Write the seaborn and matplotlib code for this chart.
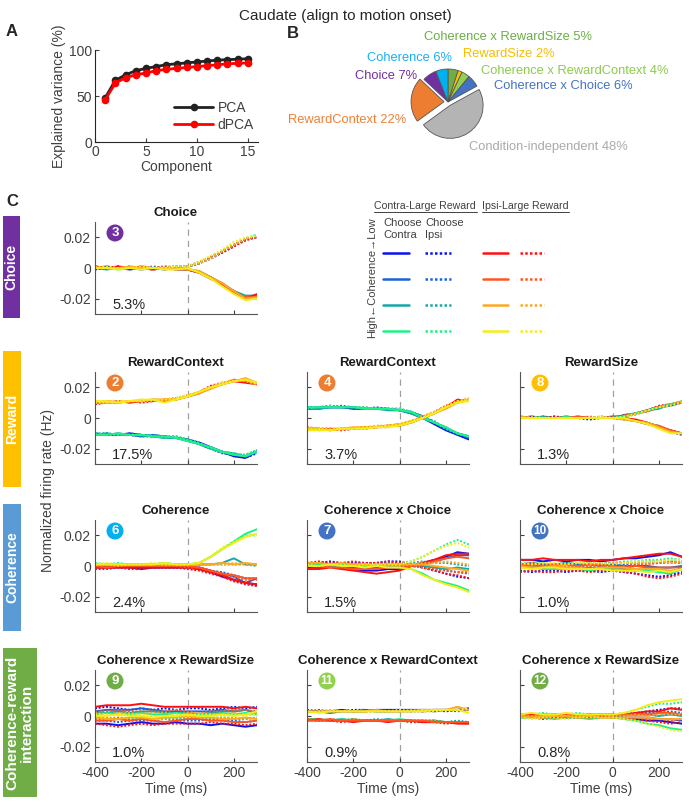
import pandas as pd
import seaborn as sns
import matplotlib.pyplot as plt
from matplotlib.lines import Line2D
from matplotlib.patches import Rectangle, Circle

# ---------------- data ----------------
# A: explained variance
components = [1, 2, 3, 4, 5, 6, 7, 8, 9, 10, 11, 12, 13, 14, 15]
pca_var = [48, 67, 73, 77.5, 80, 82, 84, 85, 86, 87, 88, 89, 89.5, 90, 90.5]
dpca_var = [46, 64, 70, 73, 75, 77.5, 79, 80, 81, 82, 83, 84, 85, 85.5, 86]

# B: variance split
pie_names = ['Coherence x RewardSize', 'RewardSize', 'Coherence x RewardContext',
             'Coherence x Choice', 'Condition-independent', 'RewardContext',
             'Choice', 'Coherence']
pie_vals = [5, 2, 4, 6, 48, 22, 7, 6]

# C: components, time in ms, rates in 1e-3 Hz
# row order: contra-large coh1..4 (blue->green), then ipsi-large coh1..4 (red->yellow);
# within each: choose contra (solid), choose ipsi (dotted)
T = [-400, -350, -300, -250, -200, -150, -100, -50, 0, 50, 100, 150, 200, 250, 300]

choice_3 = [
    [1, 0, 0, -1, 0, 0, -1, 0, -1, -3, -7, -11, -16, -20, -19],
    [-1, 0, 1, 0, 1, 0, 0, 0, 1, 3, 7, 11, 15, 19, 20],
    [0, 1, 0, 0, -1, 0, 0, -1, -1, -3, -6, -10, -15, -19, -20],
    [0, 1, 0, 0, 0, 1, 0, 1, 1, 3, 6, 10, 14, 19, 21],
    [0, -1, 0, 0, 0, -1, 0, 0, -1, -2, -6, -11, -15, -18, -18],
    [1, 0, 0, 1, 0, 0, 1, 0, 1, 4, 7, 11, 15, 18, 21],
    [0, 0, -1, 0, 0, 0, 0, 0, 0, -3, -7, -11, -16, -19, -20],
    [1, 0, 1, 0, 0, 0, 1, 1, 1, 3, 7, 11, 15, 19, 22],
    [0, 0, 1, 0, 0, -1, 0, 0, -1, -3, -6, -11, -15, -20, -17],
    [0, 0, 1, 0, 0, -1, 0, 1, 1, 3, 7, 10, 14, 18, 20],
    [1, 0, 0, 0, 1, 0, 0, -1, -1, -3, -7, -10, -16, -19, -19],
    [0, 1, 0, 1, 0, 0, 1, 0, 1, 4, 7, 11, 15, 19, 20],
    [0, 0, 0, 1, 0, 0, 0, 0, -1, -2, -6, -10, -15, -20, -19],
    [1, 0, 0, 0, 1, 0, 0, 1, 1, 3, 6, 11, 15, 19, 21],
    [0, 0, -1, 0, -1, 0, -1, -1, 0, -3, -7, -12, -17, -21, -20],
    [0, 1, 0, 0, 1, 0, 0, 1, 1, 4, 8, 12, 17, 20, 21],
]
rewctx_2 = [
    [-10, -11, -11, -10, -11, -12, -12, -13, -14, -16, -19, -22, -25, -26, -22],
    [-11, -10, -11, -11, -12, -12, -13, -13, -14, -17, -20, -23, -24, -26, -23],
    [-11, -11, -10, -11, -12, -11, -12, -13, -15, -17, -20, -22, -24, -25, -22],
    [-10, -11, -11, -10, -11, -12, -12, -12, -14, -16, -19, -22, -24, -25, -21],
    [-11, -10, -11, -11, -11, -12, -13, -13, -14, -17, -20, -22, -23, -25, -22],
    [-10, -10, -11, -11, -12, -11, -12, -13, -14, -16, -20, -23, -24, -24, -21],
    [-11, -11, -10, -11, -11, -12, -12, -13, -15, -17, -19, -22, -24, -25, -22],
    [-10, -11, -11, -11, -11, -12, -13, -12, -14, -16, -20, -22, -23, -24, -21],
    [10, 10, 11, 10, 11, 11, 12, 12, 14, 17, 20, 22, 24, 23, 22],
    [9, 10, 10, 11, 10, 11, 12, 13, 14, 17, 21, 23, 24, 24, 23],
    [10, 11, 10, 11, 11, 12, 11, 12, 14, 16, 20, 22, 25, 24, 22],
    [10, 10, 11, 10, 11, 12, 12, 13, 15, 17, 20, 23, 24, 25, 23],
    [11, 10, 10, 11, 11, 12, 12, 12, 14, 16, 19, 22, 24, 26, 23],
    [10, 11, 11, 11, 12, 11, 12, 13, 14, 17, 20, 23, 25, 24, 22],
    [11, 11, 10, 11, 12, 12, 10, 12, 14, 17, 20, 22, 24, 25, 23],
    [10, 10, 11, 11, 11, 12, 12, 13, 15, 17, 20, 23, 24, 25, 22],
]
rewctx_4 = [
    [6, 7, 7, 7, 6, 6, 6, 6, 5, 3, 0, -4, -8, -11, -14],
    [7, 7, 8, 7, 7, 6, 6, 6, 5, 4, 1, -3, -7, -10, -13],
    [6, 6, 7, 7, 7, 6, 6, 6, 5, 4, 1, -3, -7, -10, -12],
    [6, 7, 7, 8, 7, 6, 7, 6, 6, 4, 1, -3, -7, -11, -12],
    [7, 6, 7, 7, 7, 6, 6, 5, 5, 3, 0, -3, -6, -10, -12],
    [6, 7, 7, 7, 7, 7, 6, 6, 6, 4, 1, -2, -7, -10, -13],
    [7, 7, 7, 7, 7, 6, 6, 6, 5, 4, 0, -3, -6, -10, -12],
    [6, 7, 8, 7, 7, 7, 6, 6, 6, 4, 1, -3, -7, -10, -12],
    [-7, -7, -8, -7, -7, -6, -6, -5, -5, -3, 0, 3, 7, 12, 11],
    [-6, -7, -7, -8, -7, -7, -6, -6, -4, -2, 0, 4, 8, 11, 12],
    [-7, -8, -7, -7, -7, -6, -6, -5, -4, -3, 0, 3, 7, 10, 12],
    [-7, -7, -7, -8, -7, -7, -6, -5, -5, -2, 1, 4, 7, 11, 12],
    [-7, -7, -8, -7, -6, -6, -6, -5, -4, -2, 0, 3, 6, 10, 12],
    [-6, -7, -7, -7, -7, -6, -5, -5, -4, -2, 1, 4, 8, 11, 13],
    [-8, -8, -8, -7, -7, -7, -6, -6, -5, -3, 0, 3, 7, 10, 11],
    [-7, -7, -8, -7, -7, -6, -6, -5, -4, -2, 0, 4, 7, 11, 12],
]
rewsize_8 = [
    [0, 1, 0, 0, 0, 0, 0, 0, 0, 1, 3, 5, 7, 9, 10],
    [0, 0, 0, 1, 0, 0, -1, 0, 0, 0, -2, -4, -6, -9, -11],
    [1, 0, 0, 0, 1, 0, 0, 0, 1, 1, 3, 5, 7, 8, 10],
    [0, 0, 1, 0, 0, 0, 0, 0, 0, -1, -2, -3, -6, -8, -10],
    [0, 0, 1, 0, 0, 1, 0, 0, 0, 2, 3, 5, 6, 9, 10],
    [0, 0, 0, 0, 0, 0, 0, 0, 0, 0, -2, -4, -6, -8, -10],
    [0, 0, 0, 0, 1, 0, 0, 0, 0, 1, 3, 5, 7, 9, 11],
    [0, 1, 0, 0, 0, 0, 0, 0, 0, 0, -2, -3, -5, -9, -10],
    [0, 0, 0, 0, 0, 0, 0, 0, 0, 0, -1, -3, -6, -8, -10],
    [0, 0, 0, 1, 0, 0, 0, 1, 0, 2, 3, 5, 8, 9, 10],
    [0, 0, 0, 0, 0, 1, 0, 0, 0, 0, -2, -4, -5, -8, -10],
    [0, 0, 0, 0, 0, 0, 1, 0, 1, 1, 3, 4, 7, 9, 10],
    [1, 0, 0, 0, 0, 0, 0, 0, 0, -1, -2, -3, -6, -9, -10],
    [0, 1, 0, 0, 0, 0, 0, 0, 0, 1, 2, 5, 7, 9, 11],
    [0, 0, 0, 0, 0, 0, 0, 0, 0, 0, -2, -4, -7, -10, -10],
    [0, 0, 0, 0, 0, 0, 0, 1, 0, 1, 3, 5, 7, 8, 10],
]
coh_6 = [
    [-1, -1, -1, -1, -2, -1, -1, -1, -1, -2, -4, -7, -9, -11, -12],
    [-1, -1, 0, -1, -1, -1, -1, -1, -1, -2, -4, -6, -9, -11, -13],
    [0, 0, 0, 0, 0, -1, 0, 0, -1, -1, -3, -5, -7, -11, -8],
    [0, 0, 1, 0, 0, 0, 0, 0, 0, -1, -3, -4, -6, -8, -8],
    [1, 1, 1, 1, 1, 1, 1, 1, 1, 1, 1, 2, 5, 1, 1],
    [1, 1, 1, 0, 1, 1, 1, 1, 1, 1, 1, 1, 1, 1, 0],
    [1, 1, 1, 1, 1, 1, 2, 1, 1, 2, 6, 11, 16, 21, 24],
    [2, 1, 2, 1, 1, 1, 2, 1, 1, 2, 6, 11, 16, 20, 20],
    [-1, -1, -1, -1, -1, -1, -1, -1, -1, -2, -4, -6, -9, -11, -12],
    [-2, -2, -1, -2, -2, -1, -1, -1, -2, -3, -5, -7, -10, -12, -13],
    [0, -1, 0, 0, 0, 0, 0, 0, 0, -1, -3, -5, -6, -8, -8],
    [0, 0, 0, 0, 0, 0, 0, 0, -1, -1, -3, -5, -7, -9, -9],
    [1, 1, 1, 1, 1, 1, 1, 1, 1, 1, 1, 2, 1, 2, 1],
    [1, 1, 0, 1, 1, 1, 1, 1, 1, 1, 1, 1, 2, 1, 1],
    [1, 1, 1, 1, 1, 1, 2, 1, 1, 2, 6, 11, 15, 19, 21],
    [1, 2, 1, 1, 1, 2, 1, 1, 1, 2, 6, 12, 16, 19, 21],
]
cohxch_7 = [
    [-1, -1, 0, -1, -2, -3, -3, -2, -2, 0, 2, 4, 6, 9, 8],
    [2, 2, 3, 2, 2, 2, 2, 3, 3, 1, -1, -3, -5, -7, -8],
    [0, -1, 0, -1, -1, -2, -1, -1, -1, 0, 1, 3, 5, 7, 7],
    [1, 1, 2, 1, 1, 1, 1, 2, 1, 0, -1, -2, -3, -4, -5],
    [1, 2, 1, 1, 1, 0, 0, 1, 0, 1, 0, -1, -2, -1, -2],
    [0, 1, 0, 1, 0, 1, 1, 0, 1, 2, 3, 2, 2, 1, 0],
    [1, 1, 0, 1, 0, 0, 0, 0, -1, -2, -5, -9, -11, -13, -16],
    [0, 1, 1, 0, 1, 0, 1, 1, 2, 3, 6, 10, 14, 17, 14],
    [-2, -2, -1, -2, -3, -4, -5, -4, -3, 0, 2, 4, 7, 8, 8],
    [2, 3, 2, 2, 3, 2, 2, 3, 2, 1, -1, -3, -5, -6, -8],
    [0, 0, -1, -1, -2, -2, -2, -1, -1, 0, 1, 3, 5, 6, 5],
    [1, 2, 1, 1, 1, 1, 1, 1, 1, 0, -1, -2, -3, -4, -4],
    [2, 2, 1, 2, 1, 1, 0, 1, 1, 1, 1, 0, -1, -2, -3],
    [0, 0, 1, 0, 1, 1, 0, 1, 0, 1, 2, 2, 3, 2, 1],
    [0, 0, 1, 0, 0, -1, 0, -1, -1, -2, -6, -9, -12, -14, -17],
    [1, 0, 1, 1, 0, 1, 1, 1, 1, 3, 6, 10, 13, 15, 12],
]
cohxch_10 = [
    [4, 4, 3, 4, 3, 4, 4, 3, 4, 5, 5, 6, 7, 9, 6],
    [-3, -4, -3, -3, -4, -3, -3, -4, -3, -4, -5, -6, -7, -6, -4],
    [1, 2, 1, 1, 2, 1, 1, 0, 1, 0, 0, 0, -1, -1, 0],
    [0, -1, -1, 0, -1, 0, -1, -1, 0, 1, 1, 2, 2, 3, 3],
    [0, 0, -1, -1, -2, -2, -1, -2, -2, -2, -3, -2, -3, -5, -1],
    [1, 1, 0, 1, 1, 1, 2, 2, 2, 2, 2, 3, 3, 3, 2],
    [-1, -1, -2, -2, -2, -2, -3, -2, -2, -3, -3, -3, -4, -5, -2],
    [2, 2, 2, 1, 2, 2, 2, 1, 2, 3, 3, 4, 4, 5, 4],
    [4, 4, 5, 4, 4, 4, 3, 4, 4, 5, 6, 7, 8, 8, 6],
    [-4, -3, -4, -4, -3, -3, -4, -3, -3, -4, -5, -7, -8, -7, -5],
    [1, 1, 0, 1, 1, 0, 1, 1, 0, -1, 0, -1, -1, -1, -1],
    [-1, 0, 0, -1, 0, -1, 0, 0, -1, 0, 1, 1, 2, 2, 2],
    [0, -1, -1, 0, -1, -1, -2, -1, -1, -1, -2, -2, -2, -3, -2],
    [1, 2, 1, 1, 1, 2, 1, 1, 2, 2, 2, 2, 3, 2, 3],
    [-1, -2, -1, -1, -2, -2, -2, -2, -3, -3, -3, -4, -3, -4, -2],
    [2, 1, 2, 2, 1, 2, 2, 2, 1, 2, 3, 3, 3, 4, 4],
]
cohxrs_9 = [
    [-5, -5, -6, -5, -4, -5, -5, -4, -5, -5, -6, -5, -6, -7, -6],
    [5, 6, 5, 4, 5, 4, 5, 4, 5, 5, 4, 5, 6, 5, 6],
    [3, 4, 4, 4, 5, 4, 3, 3, 3, 3, 3, 4, 3, 4, 2],
    [-3, -3, -4, -3, -3, -3, -4, -3, -3, -3, -2, -3, -3, -4, -3],
    [2, 2, 3, 2, 3, 3, 2, 2, 2, 1, 2, 3, 3, 4, 2],
    [-2, -2, -1, -2, -2, -1, -2, -2, -1, -2, -2, -1, -2, -2, -1],
    [1, 2, 1, 1, 2, 1, 1, 2, 1, 1, 1, 2, 1, 2, 1],
    [-1, -1, -2, -1, -1, -1, -2, -1, -1, 0, -1, -1, -1, -2, -1],
    [6, 7, 7, 7, 8, 7, 6, 6, 6, 6, 6, 6, 5, 6, 5],
    [-5, -6, -7, -6, -5, -6, -5, -5, -5, -5, -4, -5, -5, -6, -5],
    [-3, -3, -2, -3, -2, -3, -4, -3, -2, -2, -3, -3, -4, -4, -3],
    [3, 3, 4, 3, 3, 3, 3, 4, 3, 2, 3, 3, 4, 4, 3],
    [-1, -2, -2, -1, -1, -2, -1, -1, 0, -1, -1, -2, -2, -1, -2],
    [2, 1, 2, 2, 1, 2, 2, 1, 2, 2, 1, 1, 2, 1, 2],
    [0, 0, 1, 0, 0, -1, 0, 0, 1, 0, 0, 1, 0, 1, 3],
    [1, 1, 0, 1, 1, 0, 0, 1, 0, 1, 1, 0, 1, 0, 1],
]
cohxrc_11 = [
    [3, 3, 3, 4, 3, 3, 4, 4, 4, 4, 3, 4, 4, 4, 5],
    [4, 3, 3, 3, 4, 4, 3, 3, 4, 3, 4, 4, 3, 4, 4],
    [3, 3, 2, 3, 3, 4, 3, 3, 3, 4, 4, 3, 4, 4, 4],
    [3, 4, 3, 3, 3, 3, 3, 4, 3, 3, 3, 4, 4, 3, 4],
    [-2, -3, -3, -2, -3, -3, -3, -2, -3, -3, -4, -3, -4, -4, -4],
    [-3, -3, -2, -3, -3, -3, -2, -3, -3, -3, -3, -4, -4, -3, -4],
    [-2, -2, -3, -3, -2, -3, -3, -3, -2, -3, -3, -3, -4, -4, -4],
    [-3, -3, -3, -2, -3, -3, -3, -3, -3, -4, -3, -3, -4, -4, -5],
    [-3, -2, -3, -3, -4, -3, -3, -4, -3, -3, -4, -4, -4, -5, -5],
    [-2, -3, -3, -4, -3, -3, -3, -3, -3, -4, -4, -4, -5, -4, -5],
    [-3, -3, -2, -3, -3, -3, -3, -3, -3, -3, -3, -4, -4, -4, -4],
    [-2, -3, -3, -3, -2, -3, -3, -3, -3, -3, -3, -3, -4, -4, -4],
    [3, 3, 3, 3, 3, 3, 4, 3, 3, 3, 4, 4, 4, 6, 4],
    [3, 3, 4, 3, 3, 3, 3, 3, 3, 4, 3, 3, 4, 4, 4],
    [3, 2, 3, 3, 3, 3, 3, 3, 3, 3, 3, 4, 4, 4, 2],
    [2, 3, 3, 3, 3, 3, 3, 3, 4, 3, 4, 3, 4, 4, 5],
]
cohxrs_12 = [
    [0, 0, -1, 0, -1, -1, 0, 0, -1, -1, -2, -3, -3, -4, -5],
    [1, 1, 1, 0, 1, 1, 0, 1, 1, 1, 2, 3, 4, 5, 5],
    [-1, 0, -1, -1, 0, -1, -1, 0, 0, -1, -1, -1, -2, -2, -3],
    [0, 1, 1, 1, 0, 1, 1, 1, 0, 1, 1, 2, 2, 3, 2],
    [1, 0, 1, 1, 1, 0, 1, 1, 1, 1, 1, 1, 0, 1, 0],
    [0, 1, 1, 0, 1, 1, 1, 0, 1, 1, 1, 2, 1, 1, 2],
    [-1, -1, -1, -2, -1, -1, -2, -1, -1, -2, -3, -5, -6, -8, -9],
    [1, 1, 2, 1, 1, 2, 1, 1, 1, 2, 4, 6, 8, 8, 9],
    [1, 1, 0, 1, 1, 0, 1, 0, 1, 1, 2, 3, 3, 5, 4],
    [-1, -1, -2, -1, -1, -1, -1, -1, -1, -1, -2, -3, -4, -5, -4],
    [0, 0, 1, 0, 1, 0, 0, 1, 0, 1, 1, 1, 2, 2, 1],
    [-1, -1, -1, -1, -1, 0, -1, -1, 0, -1, -1, -2, -2, -3, -2],
    [0, -1, 0, 0, 0, -1, 0, -1, -1, -1, -1, -1, -2, -2, -2],
    [0, 0, 0, 1, 0, 0, 0, 1, 0, 0, 1, 0, 1, 1, 1],
    [1, 2, 1, 1, 2, 1, 1, 1, 1, 2, 4, 7, 9, 10, 11],
    [-1, -2, -1, -1, -2, -1, -1, -1, -1, -2, -3, -5, -7, -9, -10],
]

# ---------------- style ----------------
sns.set_style('ticks')
plt.rcParams['font.family'] = ['Liberation Sans', 'DejaVu Sans']
plt.rcParams['axes.unicode_minus'] = False
TXT = '#404040'

cond_names = ['c1', 'c2', 'c3', 'c4', 'i1', 'i2', 'i3', 'i4']
cond_colors = ['#0A10F0', '#1A62D6', '#12A8A8', '#1EF286',
               '#FF1010', '#FF5522', '#FFA822', '#F2EE1A']
palette = dict(zip(cond_names, cond_colors))

W, H = 690, 802
fig = plt.figure(figsize=(W / 100, H / 100), dpi=100)


def rect(x0, y0, x1, y1):
    return [x0 / W, 1 - y1 / H, (x1 - x0) / W, (y1 - y0) / H]


# overlay in pixel coords for labels / boxes / legend (drawn on top, no background)
ov = fig.add_axes([0, 0, 1, 1])
ov.set_xlim(0, W)
ov.set_ylim(H, 0)
ov.axis('off')
ov.set_zorder(10)

ov.text(345, 16, 'Caudate (align to motion onset)', ha='center', va='center',
        fontsize=11, color='#262626')
for lab, x, y in [('A', 12, 32), ('B', 293, 34), ('C', 12, 202)]:
    ov.text(x, y, lab, ha='center', va='center', fontsize=12, fontweight='bold')

# ---------------- A ----------------
ax = fig.add_axes(rect(95, 50, 258, 142))
df_a = pd.DataFrame({'Component': components * 2,
                     'Explained': pca_var + dpca_var,
                     'Method': ['PCA'] * 15 + ['dPCA'] * 15})
sns.lineplot(data=df_a, x='Component', y='Explained', hue='Method',
             palette={'PCA': '#222222', 'dPCA': '#FF0000'}, marker='o',
             markersize=5.5, markeredgewidth=0, linewidth=2, legend=False, ax=ax)
ax.set_xlim(0, 16)
ax.set_ylim(0, 100)
ax.set_xticks([0, 5, 10, 15])
ax.set_yticks([0, 50, 100])
ax.set_xlabel('Component', fontsize=10, color=TXT, labelpad=1)
ax.set_ylabel('Explained variance (%)', fontsize=10, color=TXT, labelpad=2)
ax.tick_params(direction='in', length=3, labelsize=10, colors=TXT, pad=2)
sns.despine(ax=ax)
handles = [Line2D([], [], color=c, marker='o', markersize=5.5, lw=2, markeredgewidth=0)
           for c in ['#222222', '#FF0000']]
ax.legend(handles, ['PCA', 'dPCA'], frameon=False, loc='lower right',
          bbox_to_anchor=(1.05, -0.03), fontsize=10, handlelength=2.8,
          handletextpad=0.3, labelspacing=0.25, labelcolor=TXT)

# ---------------- B ----------------
pie_colors = ['#70AD47', '#FFC000', '#92D050', '#4472C4', '#B4B4B4',
              '#ED7D31', '#7030A0', '#00B0F0']
pie_text_colors = ['#6AAF45', '#F5BE00', '#8CCB4C', '#4472C4', '#ABABAB',
                   '#EE8036', '#7030A0', '#1AB0F0']
pie_explode = [0, 0, 0, 0, 0.12, 0.12, 0, 0]
R = 33
axp = fig.add_axes(rect(448 - 60, 102 - 60, 448 + 60, 102 + 60))
axp.pie(pie_vals, colors=pie_colors, startangle=90, counterclock=False,
        explode=pie_explode, wedgeprops=dict(edgecolor='#555555', linewidth=0.6))
axp.set_xlim(-60 / R, 60 / R)
axp.set_ylim(-60 / R, 60 / R)

pie_label_pos = [(508, 37, 'center'), (463, 54, 'left'), (481, 71, 'left'),
                 (494, 86, 'left'), (469, 147, 'left'), (406, 120, 'right'),
                 (417, 76, 'right'), (452, 58, 'right')]
for name, v, col, (x, y, ha) in zip(pie_names, pie_vals, pie_text_colors, pie_label_pos):
    ov.text(x, y, f'{name} {v}%', color=col, ha=ha, va='center', fontsize=9.3)

# ---------------- C ----------------
col_x = [(95, 257), (307, 469), (520, 682)]
row_y = [(222, 314), (372, 464), (520, 612), (670, 762)]

panels = [
    (0, 0, 'Choice', '3', '#7030A0', '5.3%', choice_3),
    (1, 0, 'RewardContext', '2', '#ED7D31', '17.5%', rewctx_2),
    (1, 1, 'RewardContext', '4', '#ED7D31', '3.7%', rewctx_4),
    (1, 2, 'RewardSize', '8', '#FFC000', '1.3%', rewsize_8),
    (2, 0, 'Coherence', '6', '#00B0F0', '2.4%', coh_6),
    (2, 1, 'Coherence x Choice', '7', '#4472C4', '1.5%', cohxch_7),
    (2, 2, 'Coherence x Choice', '10', '#4472C4', '1.0%', cohxch_10),
    (3, 0, 'Coherence x RewardSize', '9', '#70AD47', '1.0%', cohxrs_9),
    (3, 1, 'Coherence x RewardContext', '11', '#92D050', '0.9%', cohxrc_11),
    (3, 2, 'Coherence x RewardSize', '12', '#70AD47', '0.8%', cohxrs_12),
]

for r, c, title, badge, bcol, pct, traces in panels:
    x0, x1 = col_x[c]
    y0, y1 = row_y[r]
    ax = fig.add_axes(rect(x0, y0, x1, y1))
    recs = []
    for k, tr in enumerate(traces):
        for t, v in zip(T, tr):
            recs.append((t, v * 1e-3, cond_names[k // 2], 'contra' if k % 2 == 0 else 'ipsi'))
    df = pd.DataFrame(recs, columns=['time', 'rate', 'cond', 'choice'])
    ax.axvline(0, color='#A0A0A0', lw=0.9, ls=(0, (5, 4)), zorder=0)
    sns.lineplot(data=df, x='time', y='rate', hue='cond', style='choice',
                 palette=palette, dashes={'contra': '', 'ipsi': (1, 0.9)},
                 estimator=None, linewidth=1.4, legend=False, ax=ax)
    ax.set_xlim(-400, 300)
    ax.set_ylim(-0.03, 0.03)
    ax.set_xticks([-400, -200, 0, 200])
    ax.set_yticks([-0.02, 0, 0.02])
    ax.tick_params(direction='in', length=3, labelsize=10, colors=TXT, pad=3)
    ax.set_xlabel('')
    ax.set_ylabel('')
    if c == 0:
        ax.set_yticklabels(['-0.02', '0', '0.02'])
    else:
        ax.set_yticklabels([])
    if r == 3:
        ax.set_xticklabels(['-400', '-200', '0', '200'])
        ax.set_xlabel('Time (ms)', fontsize=10, color=TXT, labelpad=1)
    else:
        ax.set_xticklabels([])
    sns.despine(ax=ax)
    for s in ['left', 'bottom']:
        ax.spines[s].set_color('#555555')
        ax.spines[s].set_linewidth(0.8)
    ax.set_title(title, fontsize=9.5, fontweight='bold', color='#1A1A1A', pad=4)
    ax.text(0.105, 0.1, pct, transform=ax.transAxes, ha='left', va='center',
            fontsize=10.5, color='#262626')
    # numbered badge
    ov.add_patch(Circle((x0 + 20, y0 + 11), 8.5, fc=bcol, ec='none'))
    ov.text(x0 + 20, y0 + 11.5, badge, ha='center', va='center', color='white',
            fontsize=9.5 if len(badge) == 1 else 8.5, fontweight='bold')

ov.text(48, 490, 'Normalized firing rate (Hz)', rotation=90, ha='center',
        va='center', fontsize=10, color=TXT)

# side category boxes
side = [(3, 216, 20, 318, '#7030A0', 'Choice', 10),
        (3, 351, 21, 487, '#FFC000', 'Reward', 10),
        (3, 504, 21, 631, '#5B9BD5', 'Coherence', 10),
        (3, 648, 37, 797, '#70AD47', 'Coherence-reward\ninteraction', 11)]
for sx0, sy0, sx1, sy1, col, lab, fs in side:
    ov.add_patch(Rectangle((sx0, sy0), sx1 - sx0, sy1 - sy0, fc=col, ec='none'))
    ov.text((sx0 + sx1) / 2, (sy0 + sy1) / 2, lab, rotation=90, ha='center',
            va='center', color='white', fontsize=fs, fontweight='bold',
            multialignment='center', linespacing=1.05)

# condition legend
ov.text(374, 206, 'Contra-Large Reward', fontsize=7.6, color=TXT, va='center')
ov.text(482, 206, 'Ipsi-Large Reward', fontsize=7.6, color=TXT, va='center')
ov.plot([374, 477], [212, 212], color=TXT, lw=0.7)
ov.plot([482, 569], [212, 212], color=TXT, lw=0.7)
ov.text(383, 229, 'Choose\nContra', fontsize=8, color=TXT, va='center', linespacing=1.15)
ov.text(425, 229, 'Choose\nIpsi', fontsize=8, color=TXT, va='center', linespacing=1.15)
ov.text(372, 278, 'High\u2190Coherence\u2192Low', rotation=90, fontsize=8,
        color=TXT, ha='center', va='center')
leg_rows = [253, 279, 305, 331]
for i, ly in enumerate(leg_rows):
    for (lx0, lx1), cidx, dash in [((383, 409), i, ''), ((425, 451), i, (1, 0.9)),
                                   ((483, 508), i + 4, ''), ((520, 544), i + 4, (1, 0.9))]:
        ov.plot([lx0, lx1], [ly, ly], color=cond_colors[cidx], lw=1.8, dashes=dash)

fig.savefig('out.png', dpi=100)
